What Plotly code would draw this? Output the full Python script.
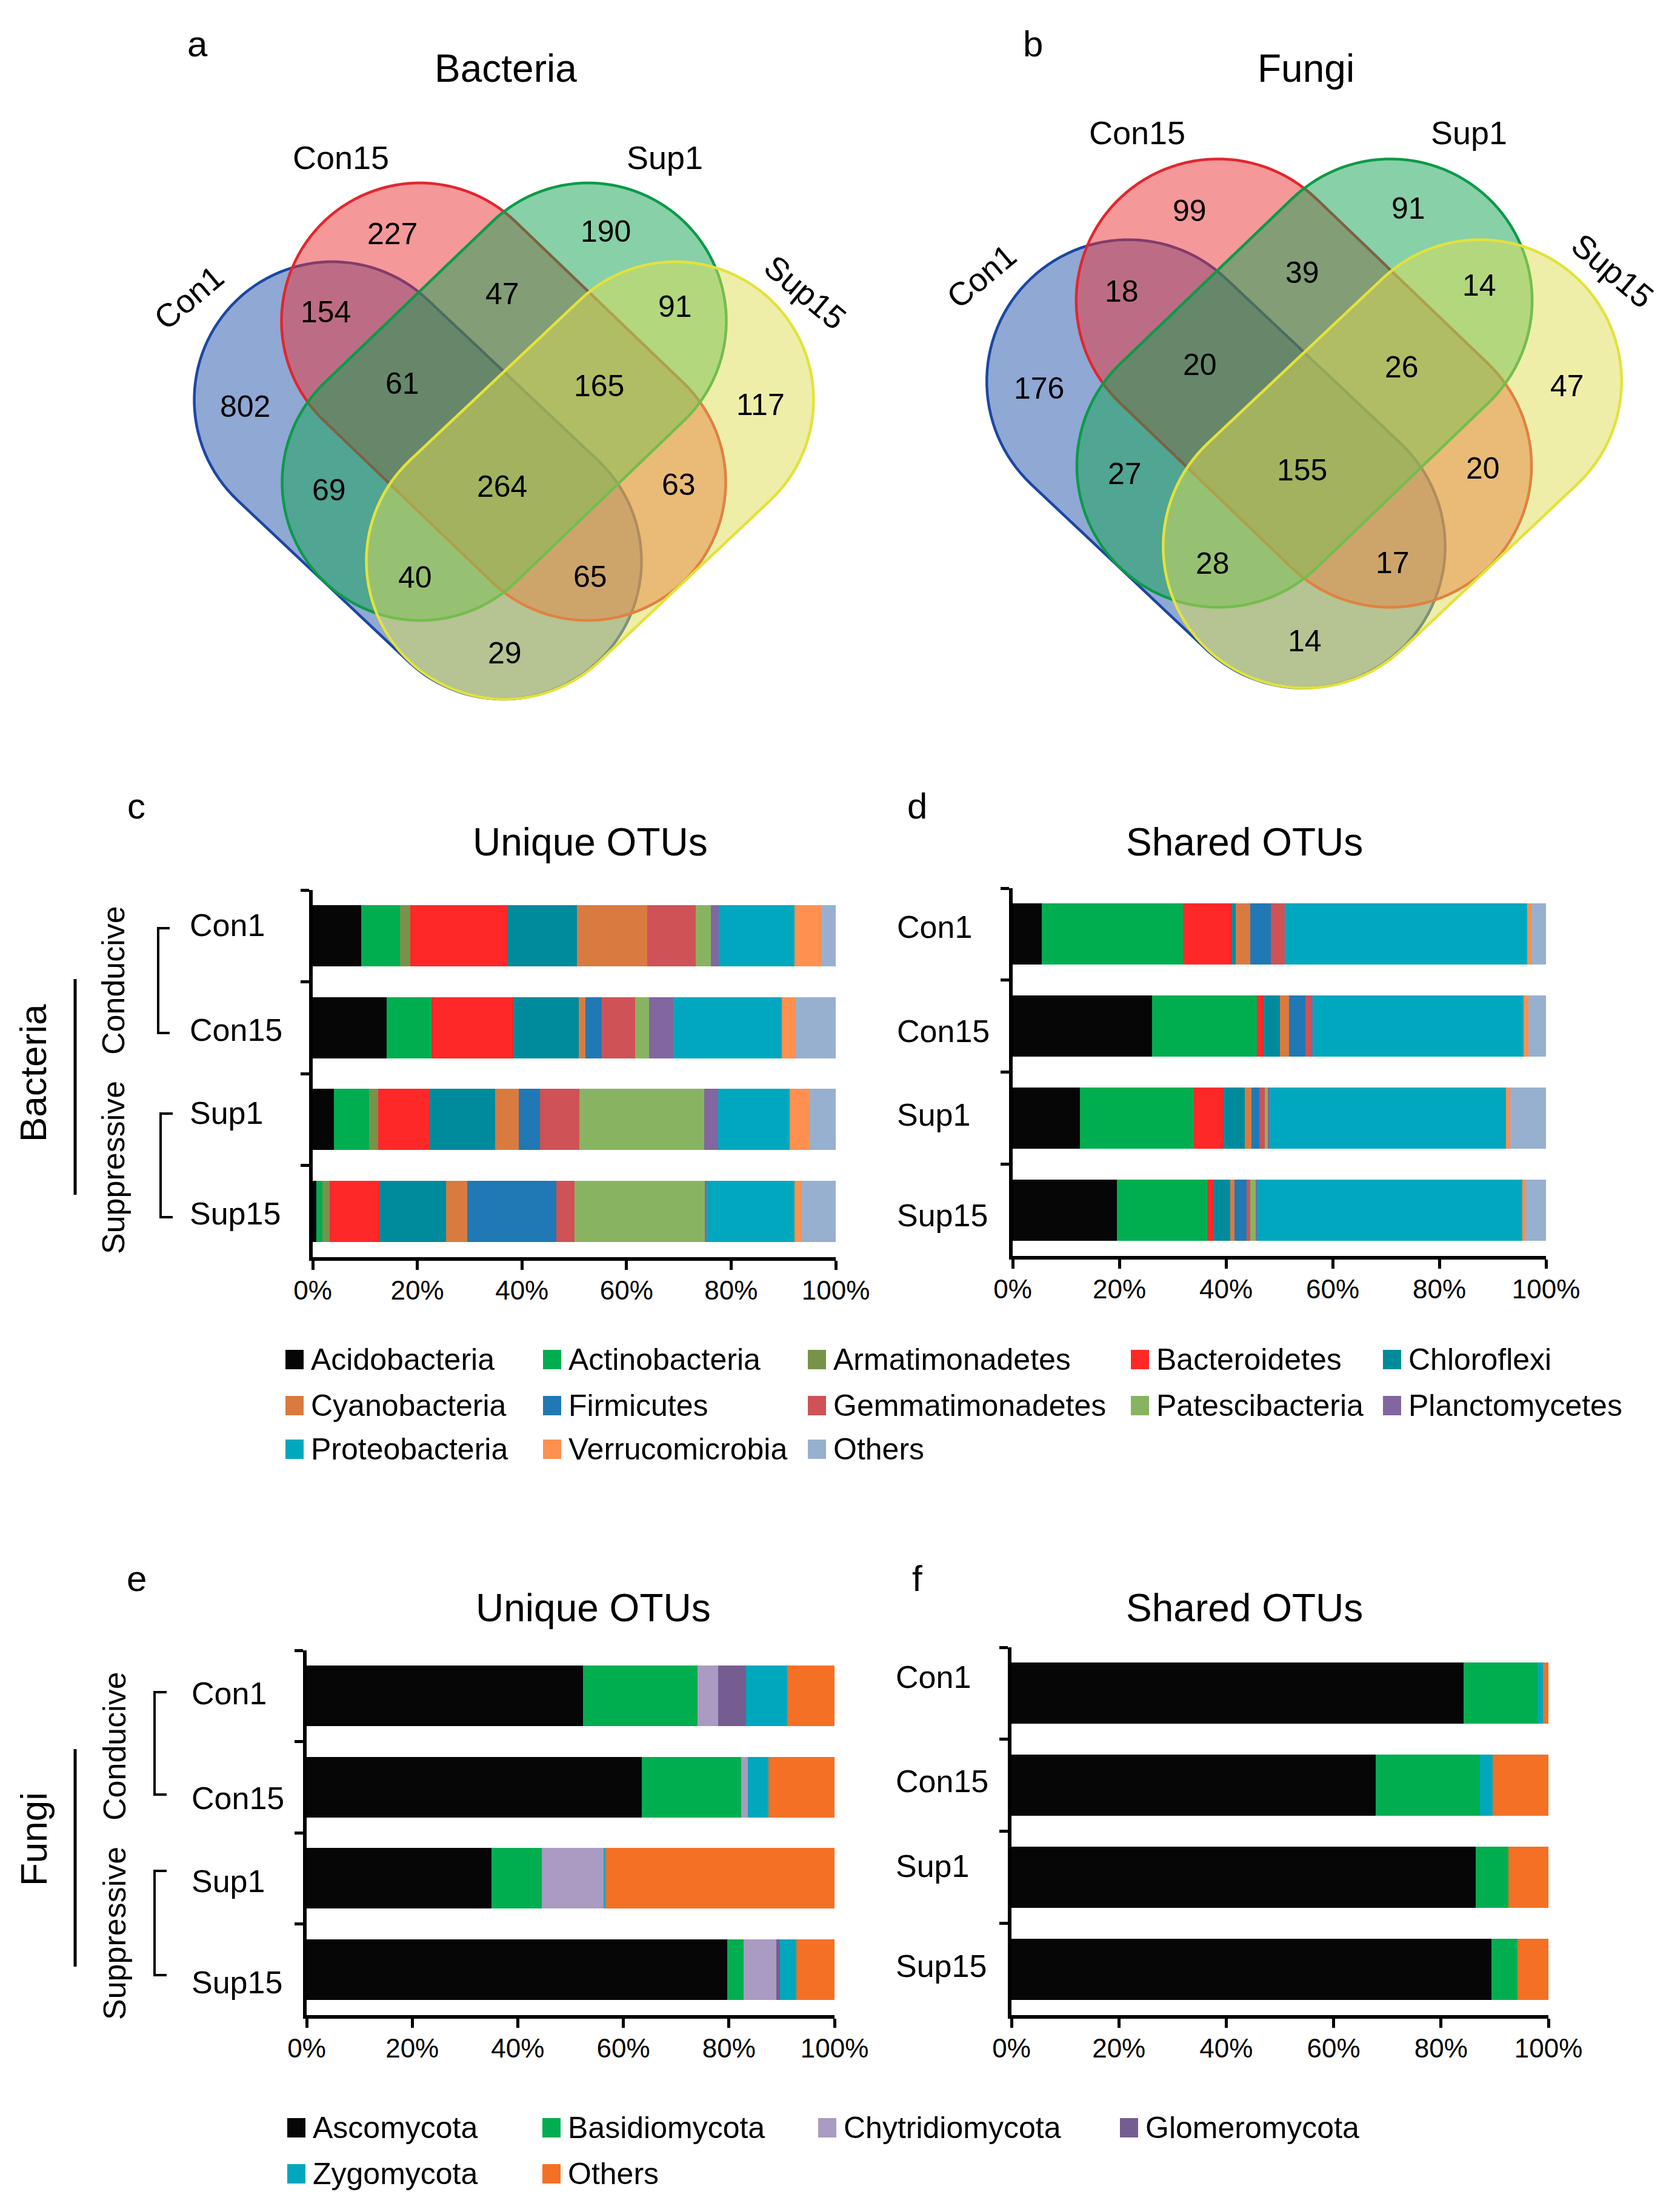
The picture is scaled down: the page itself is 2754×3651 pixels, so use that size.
import math
import plotly.graph_objects as go

W, H = 2754, 3651
FONT = "Liberation Sans, Arial, sans-serif"

# ---------------- DATA ----------------
samples = ["Con1", "Con15", "Sup1", "Sup15"]

bac_phyla = ["Acidobacteria", "Actinobacteria", "Armatimonadetes", "Bacteroidetes",
             "Chloroflexi", "Cyanobacteria", "Firmicutes", "Gemmatimonadetes",
             "Patescibacteria", "Planctomycetes", "Proteobacteria", "Verrucomicrobia", "Others"]
bac_colors = ["#060606", "#00ae50", "#77934a", "#ff2828", "#008b9d", "#d97b40", "#2079b4",
              "#cf5257", "#88b462", "#8266a0", "#00a8bf", "#ff904f", "#97b0d0"]

# rows: Con1, Con15, Sup1, Sup15 ; columns follow bac_phyla (% of OTUs)
bac_unique = [
    [9.3, 7.4, 1.9, 18.7, 13.2, 13.5, 0.0, 9.2, 2.9, 1.5, 14.5, 5.1, 2.8],
    [14.1, 8.6, 0.0, 15.6, 12.6, 1.2, 3.2, 6.4, 2.6, 4.7, 20.7, 2.6, 7.7],
    [4.1, 6.7, 1.7, 9.8, 12.6, 4.5, 4.0, 7.6, 23.9, 2.6, 13.7, 3.7, 5.1],
    [0.7, 1.1, 1.5, 9.5, 12.7, 4.0, 17.1, 3.4, 25.0, 0.3, 16.8, 1.4, 6.5],
]
bac_shared = [
    [5.5, 26.4, 0.0, 9.1, 0.8, 2.8, 3.8, 2.6, 0.0, 0.0, 45.5, 0.8, 2.7],
    [26.1, 19.7, 0.0, 1.2, 3.1, 1.7, 3.1, 1.0, 0.0, 0.4, 39.5, 0.9, 3.3],
    [12.6, 21.4, 0.0, 5.5, 4.0, 1.3, 1.5, 1.0, 0.5, 0.4, 44.3, 0.8, 6.7],
    [19.5, 17.0, 0.0, 1.2, 3.1, 0.8, 2.3, 0.7, 1.0, 0.2, 49.8, 0.7, 3.7],
]

fun_phyla = ["Ascomycota", "Basidiomycota", "Chytridiomycota", "Glomeromycota", "Zygomycota", "Others"]
fun_colors = ["#060606", "#00ae50", "#a99bc1", "#755d92", "#00a7bd", "#f47025"]
fun_unique = [
    [52.4, 21.7, 3.8, 5.3, 7.9, 8.9],
    [63.5, 18.8, 1.3, 0.0, 3.9, 12.5],
    [35.0, 9.5, 11.8, 0.0, 0.3, 43.4],
    [79.7, 3.1, 6.2, 0.7, 3.1, 7.2],
]
fun_shared = [
    [84.2, 13.8, 0.0, 0.0, 1.0, 1.0],
    [67.8, 19.4, 0.0, 0.0, 2.4, 10.4],
    [86.4, 6.2, 0.0, 0.0, 0.0, 7.4],
    [89.4, 4.8, 0.0, 0.0, 0.0, 5.8],
]

x_ticks = [0, 20, 40, 60, 80, 100]
x_ticktext = ["0%", "20%", "40%", "60%", "80%", "100%"]

# Venn region counts
venn_regions = ["Con1", "Con15", "Sup1", "Sup15", "Con1&Con15", "Con15&Sup1", "Sup1&Sup15",
                "Con1&Con15&Sup1", "Con15&Sup1&Sup15", "Con1&Sup1", "All", "Con15&Sup15",
                "Con1&Sup1&Sup15", "Con1&Con15&Sup15", "Con1&Sup15"]
bac_venn = [802, 227, 190, 117, 154, 47, 91, 61, 165, 69, 264, 63, 40, 65, 29]
fun_venn = [176, 99, 91, 47, 18, 39, 14, 20, 26, 27, 155, 20, 28, 17, 14]

# ---------------- LAYOUT HELPERS ----------------
def px(x):
    return x / W

def py(y):
    return 1 - y / H

shapes = []
annotations = []

def text(x, y, s, size, xanchor="center", angle=0, color="black"):
    annotations.append(dict(x=px(x), y=py(y), xref="paper", yref="paper", text=s,
                            showarrow=False, xanchor=xanchor, yanchor="middle",
                            textangle=angle, font=dict(family=FONT, size=size, color=color)))

def line_path(points, width=4, color="black"):
    d = "M " + " L ".join(f"{px(x):.6f},{py(y):.6f}" for x, y in points)
    shapes.append(dict(type="path", path=d, xref="paper", yref="paper",
                       line=dict(color=color, width=width)))

# ---------------- VENN (capsule-shaped sets) ----------------
CAP_R = 228
venn_sets = [  # end-circle centres relative to diagram centre, fill rgb, edge colour
    ((-283, -68), (-1, 198), (31, 81, 169), "#1b47a3"),
    ((-139, -198), (138, 68), (233, 49, 53), "#e3262e"),
    ((139, -198), (-138, 68), (17, 161, 81), "#0d9a48"),
    ((283, -68), (1, 198), (221, 221, 81), "#e2e23c"),
]
region_offsets = [(-427, 8), (-184, -277), (168, -281), (423, 5), (-294, -148), (-3, -178),
                  (282, -157), (-168, -30), (157, -26), (-289, 146), (-3, 140), (288, 137),
                  (-147, 290), (142, 289), (1, 415)]


def capsule(c1, c2, r, n=60):
    ux, uy = c2[0] - c1[0], c2[1] - c1[1]
    L = math.hypot(ux, uy)
    ux, uy = ux / L, uy / L
    phi = math.atan2(ux, -uy)  # angle of normal (-uy, ux)
    pts = []
    for i in range(n + 1):
        a = phi - math.pi * i / n
        pts.append((c2[0] + r * math.cos(a), c2[1] + r * math.sin(a)))
    for i in range(n + 1):
        a = phi - math.pi - math.pi * i / n
        pts.append((c1[0] + r * math.cos(a), c1[1] + r * math.sin(a)))
    return pts


def draw_venn(cx, cy, s, counts, letter, lx, title):
    for (a1, a2), (b1, b2), rgb, lc in venn_sets:
        c1 = (cx + a1 * s, cy + a2 * s)
        c2 = (cx + b1 * s, cy + b2 * s)
        pts = capsule(c1, c2, CAP_R * s)
        d = "M " + " L ".join(f"{px(x):.6f},{py(y):.6f}" for x, y in pts) + " Z"
        shapes.append(dict(type="path", path=d, xref="paper", yref="paper",
                           fillcolor=f"rgba({rgb[0]},{rgb[1]},{rgb[2]},0.5)",
                           line=dict(color=lc, width=4.5)))
    ly = cy - 65 * s
    for (ox, oy), n in zip(region_offsets, counts):
        text(cx + ox * s, ly + oy * s, str(n), 50)
    text(cx - 520 * s, ly - 172 * s, "Con1", 54, angle=-40)
    text(cx - 269 * s, ly - 403 * s, "Con15", 54)
    text(cx + 265 * s, ly - 403 * s, "Sup1", 54)
    text(cx + 497 * s, ly - 181 * s, "Sup15", 54, angle=40)
    text(lx, 72, letter, 60)
    text(cx + 3, 113, title, 64)


draw_venn(831.5, 728, 1.0, bac_venn, "a", 326, "Bacteria")
draw_venn(2152, 699, 1.025, fun_venn, "b", 1704, "Fungi")

# ---------------- BAR PANELS ----------------
fig = go.Figure()

panels = [
    (bac_unique, bac_phyla, bac_colors, (516, 1379), (1469, 2075), 1),
    (bac_shared, bac_phyla, bac_colors, (1671, 2551), (1466, 2073), 2),
    (fun_unique, fun_phyla, fun_colors, (506, 1377), (2724, 3326), 3),
    (fun_shared, fun_phyla, fun_colors, (1669, 2555), (2719, 3326), 4),
]

layout_axes = {}
for data, phyla, colors, (x0, x1), (y0, y1), k in panels:
    xa = "x" if k == 1 else f"x{k}"
    ya = "y" if k == 1 else f"y{k}"
    for j, (ph, col) in enumerate(zip(phyla, colors)):
        fig.add_trace(go.Bar(
            y=samples, x=[row[j] for row in data], orientation="h", name=ph,
            marker=dict(color=col, line=dict(width=0)), xaxis=xa, yaxis=ya,
            showlegend=False))
    xname = "xaxis" if k == 1 else f"xaxis{k}"
    yname = "yaxis" if k == 1 else f"yaxis{k}"
    layout_axes[xname] = dict(domain=[px(x0), px(x1)], anchor=ya, range=[0, 100],
                              tickmode="array", tickvals=x_ticks, ticktext=x_ticktext,
                              ticks="outside", ticklen=15, tickwidth=5, tickcolor="black",
                              ticklabelstandoff=-4, automargin=False,
                              showline=True, linewidth=6, linecolor="black",
                              showgrid=False, zeroline=False, fixedrange=True,
                              tickfont=dict(family=FONT, size=44, color="black"))
    layout_axes[yname] = dict(domain=[py(y1), py(y0)], anchor=xa, type="category",
                              categoryorder="array", categoryarray=samples,
                              autorange="reversed", tickson="boundaries", automargin=False,
                              ticks="outside", ticklen=14, tickwidth=5, tickcolor="black",
                              showticklabels=False, showline=True, linewidth=6,
                              linecolor="black", showgrid=False, zeroline=False)

# sample labels
for xl, ys in [(311, [1527, 1700, 1837, 2003]), (1478, [1530, 1702, 1840, 2006]),
               (314, [2795, 2968, 3105, 3272]), (1476, [2768, 2940, 3080, 3245])]:
    for s, yy in zip(samples, ys):
        text(xl, yy, s, 52, xanchor="left")

# panel letters and titles
text(225, 1331, "c", 60)
text(1513, 1331, "d", 60)
text(225, 2605, "e", 60)
text(1513, 2605, "f", 60)
text(974, 1390, "Unique OTUs", 64)
text(2053, 1390, "Shared OTUs", 64)
text(979, 2654, "Unique OTUs", 64)
text(2053, 2654, "Shared OTUs", 64)

# group brackets and side labels
line_path([(280, 1532), (261, 1532), (261, 1705), (280, 1705)])
line_path([(285, 1838), (265, 1838), (265, 2009), (285, 2009)])
text(187, 1618, "Conducive", 52, angle=-90)
text(187, 1927, "Suppressive", 52, angle=-90)
line_path([(124, 1616), (124, 1972)], width=5)
text(55, 1771, "Bacteria", 62, angle=-90)

line_path([(275, 2793), (255, 2793), (255, 2962), (275, 2962)])
line_path([(275, 3088), (255, 3088), (255, 3260), (275, 3260)])
text(189, 2882, "Conducive", 52, angle=-90)
text(189, 3191, "Suppressive", 52, angle=-90)
line_path([(124, 2887), (124, 3246)], width=5)
text(55, 3036, "Fungi", 62, angle=-90)

# ---------------- LEGENDS ----------------
def legend(names, colors, cols_x, rows_y, ncol):
    for i, (nm, col) in enumerate(zip(names, colors)):
        x = cols_x[i % ncol]
        y = rows_y[i // ncol]
        shapes.append(dict(type="rect", xref="paper", yref="paper",
                           x0=px(x), x1=px(x + 30), y0=py(y + 16), y1=py(y - 16),
                           fillcolor=col, line=dict(width=0)))
        text(x + 40, y, nm, 50, xanchor="left")


legend(bac_phyla, bac_colors, [471, 896, 1333, 1866, 2282], [2244, 2320, 2392], 5)
legend(fun_phyla, fun_colors, [474, 895, 1350, 1848], [3512, 3588], 4)

fig.update_layout(
    width=W, height=H, autosize=False,
    margin=dict(l=0, r=0, t=0, b=0, pad=0, autoexpand=False),
    paper_bgcolor="white", plot_bgcolor="white",
    barmode="stack", bargap=0.335, showlegend=False,
    shapes=shapes, annotations=annotations,
    font=dict(family=FONT, color="black"),
    **layout_axes,
)

fig.write_html("out.html", config={"displayModeBar": False},
               post_script="document.body.style.margin='0';document.body.style.padding='0';")
